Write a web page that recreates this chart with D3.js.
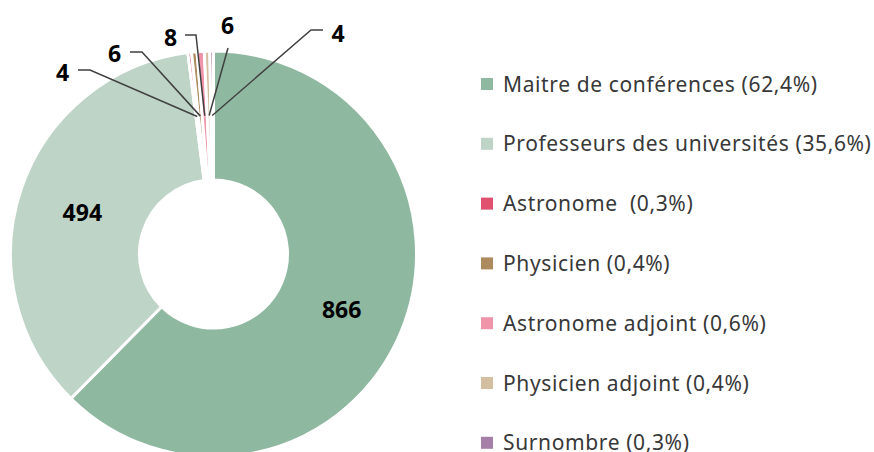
<!DOCTYPE html>
<html>
<head>
<meta charset="utf-8">
<script src="https://cdn.jsdelivr.net/npm/d3@7"></script>
<style>
  body { margin: 0; background: #fff; }
  svg { display: block; }
</style>
</head>
<body>
<div id="chart"></div>
<script>
  var categories, values, legendLabels, colors, width, height, cx, cy, outerR, innerR, svg, pie, arc, arcs, g, small, labelPos, legend;

  categories = ["Maitre de conférences", "Professeurs des universités", "Astronome", "Physicien", "Astronome adjoint", "Physicien adjoint", "Surnombre"];

  values = [866, 494, 4, 6, 8, 6, 4];

  legendLabels = ["Maitre de conférences (62,4%)", "Professeurs des universités (35,6%)", "Astronome  (0,3%)", "Physicien (0,4%)", "Astronome adjoint (0,6%)", "Physicien adjoint (0,4%)", "Surnombre (0,3%)"];

  colors = ["#8fb8a0", "#bed4c7", "#e0506f", "#ad8b5e", "#ef94a9", "#d3bf9f", "#a67fa9"];

  // hand placed callouts for the thin slices: elbow point and text anchor
  labelPos = [
    null,
    null,
    { elbow: [90, 70], end: [78, 70], text: [62.5, 81] },
    { elbow: [142, 52], end: [130, 52], text: [114.5, 62] },
    { elbow: [196, 35], end: [185, 35], text: [170.5, 46] },
    { elbow: [228, 48], end: [228, 48], text: [227.5, 34] },
    { elbow: [311, 30], end: [323, 30], text: [338, 42] }
  ];

  width = 874;
  height = 452;
  cx = 213.5;
  cy = 254;
  outerR = 203;
  innerR = 74;

  svg = d3.select("#chart").append("svg").attr("width", width).attr("height", height);

  pie = d3.pie().sort(null).value(function(d) { return d; });
  arc = d3.arc().innerRadius(innerR).outerRadius(outerR);
  arcs = pie(values);

  g = svg.append("g").attr("transform", "translate(" + cx + "," + cy + ")");

  g.selectAll("path").data(arcs).enter().append("path")
    .attr("d", arc)
    .style("fill", function(d, i) { return colors[i]; })
    .style("stroke", "#fff")
    .style("stroke-width", 3);

  // big slices: value at centroid
  g.selectAll("text.big").data(arcs.filter(function(d) { return d.value > 100; })).enter().append("text")
    .attr("class", "big")
    .attr("x", function(d) { return arc.centroid(d)[0]; })
    .attr("y", function(d) { return arc.centroid(d)[1] + 11; })
    .attr("text-anchor", "middle")
    .style("font-family", "'Open Sans', sans-serif")
    .style("font-weight", "bold")
    .style("font-size", "23px")
    .style("fill", "#000")
    .text(function(d) { return d.value; });

  // thin slices: leader lines from centroid
  small = arcs.map(function(d, i) { return { a: d, p: labelPos[i] }; }).filter(function(d) { return d.p; });

  svg.selectAll("polyline.lead").data(small).enter().append("polyline")
    .attr("class", "lead")
    .attr("points", function(d) {
      var c = arc.centroid(d.a);
      return [[c[0] + cx, c[1] + cy], d.p.elbow, d.p.end].map(function(p) { return p.join(","); }).join(" ");
    })
    .style("fill", "none")
    .style("stroke", "#404040")
    .style("stroke-width", 1.5);

  svg.selectAll("text.small").data(small).enter().append("text")
    .attr("class", "small")
    .attr("x", function(d) { return d.p.text[0]; })
    .attr("y", function(d) { return d.p.text[1]; })
    .attr("text-anchor", "middle")
    .style("font-family", "'Open Sans', sans-serif")
    .style("font-weight", "bold")
    .style("font-size", "23px")
    .style("fill", "#000")
    .text(function(d) { return d.a.value; });

  legend = svg.selectAll("g.legend").data(legendLabels).enter().append("g")
    .attr("class", "legend")
    .attr("transform", function(d, i) { return "translate(481," + (84 + i * 59.8) + ")"; });

  legend.append("rect")
    .attr("x", 0).attr("y", -6)
    .attr("width", 12).attr("height", 12)
    .style("fill", function(d, i) { return colors[i]; });

  legend.append("text")
    .attr("x", 22).attr("y", 7.5)
    .style("font-family", "'Noto Sans', sans-serif")
    .style("font-size", "21px")
    .style("letter-spacing", "0.62px")
    .style("white-space", "pre")
    .style("fill", "#383838")
    .text(function(d) { return d; });
</script>
</body>
</html>
